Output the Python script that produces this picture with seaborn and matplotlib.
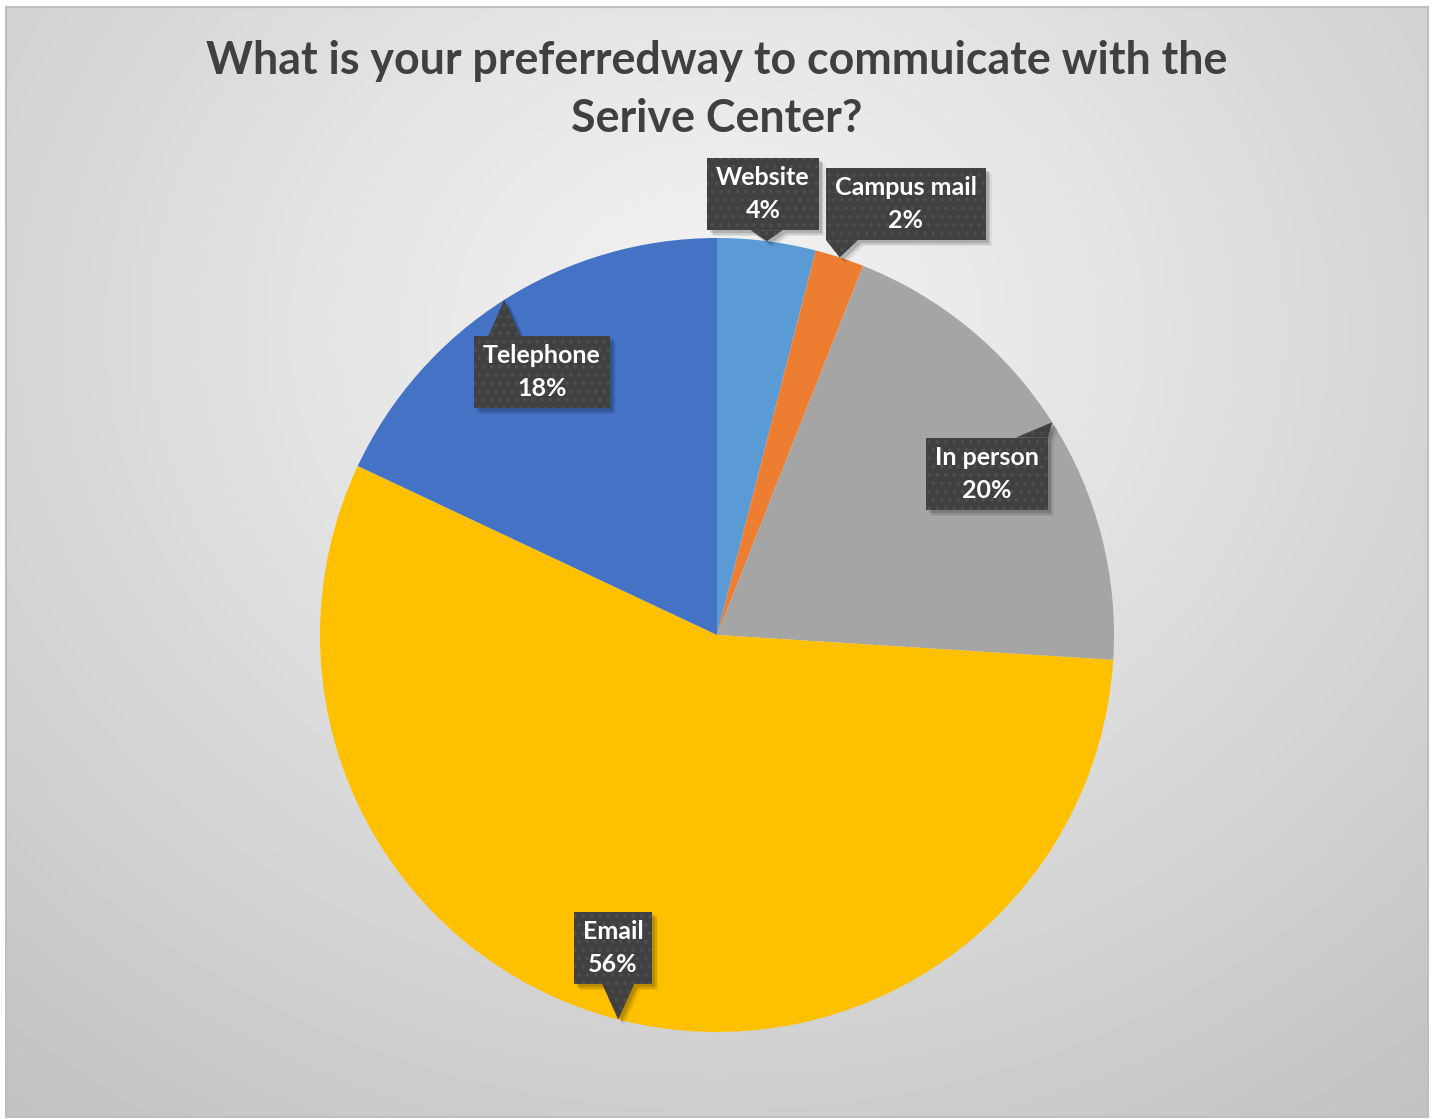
import numpy as np
import matplotlib
matplotlib.use("Agg")
import matplotlib.pyplot as plt
from matplotlib.patches import Rectangle, Polygon
import seaborn as sns

# Survey answers (share of respondents, %)
channels = ["Website", "Campus mail", "In person", "Email", "Telephone"]
shares = [4, 2, 20, 56, 18]
slice_colors = ["#5B9BD5", "#ED7D31", "#A5A5A5", "#FFC000", "#4472C4"]

title = "What is your preferredway to commuicate with the\nSerive Center?"

# Callout box centres, in pie-radius units
callout_pos = {
    "Website": (0.116, 1.111),
    "Campus mail": (0.476, 1.086),
    "In person": (0.680, 0.406),
    "Email": (-0.262, -0.788),
    "Telephone": (-0.441, 0.662),
}

sns.set_theme(style="white")
plt.rcParams["font.family"] = ["Lato", "DejaVu Sans"]
plt.rcParams["hatch.linewidth"] = 1.5

W, H, DPI = 1435, 1119, 100
fig = plt.figure(figsize=(W / DPI, H / DPI), dpi=DPI)
fig.patch.set_facecolor("white")

# pie centre and radius in pixels
cx, cy, R = 717, 635, 397
ax = fig.add_axes([0, 0, 1, 1])
x0, x1 = -cx / R, (W - cx) / R
y0, y1 = (cy - H) / R, cy / R


def px(x, y):
    """pixel position (from top-left) -> data coordinates"""
    return (x - cx) / R, (cy - y) / R


# chart area with a soft radial gradient
gx0, gy0 = px(6, 7)
gx1, gy1 = px(1428, 1117)
nx, ny = 400, 320
xs = np.linspace(gx0, gx1, nx)
ys = np.linspace(gy1, gy0, ny)
XX, YY = np.meshgrid(xs, ys)
ccx, ccy = px(717, 330)
d = np.sqrt(((XX - ccx) / 2.0) ** 2 + ((YY - ccy) / 1.75) ** 2)
d = np.clip(d / d.max(), 0, 1)
light = np.array([0xF4, 0xF4, 0xF4]) / 255
dark = np.array([0xC2, 0xC2, 0xC2]) / 255
img = light[None, None, :] * (1 - d[..., None] ** 1.1) + dark[None, None, :] * (d[..., None] ** 1.1)
ax.imshow(img, extent=(gx0, gx1, gy1, gy0), origin="lower", zorder=0, aspect="auto", interpolation="bilinear")
ax.add_patch(Rectangle((gx0, gy1), gx1 - gx0, gy0 - gy1, fill=False, edgecolor="#BFBFBF", linewidth=1.5, zorder=1))

wedges, _ = ax.pie(shares, colors=slice_colors, startangle=90, counterclock=False,
                   radius=1, center=(0, 0), wedgeprops=dict(linewidth=0))
for w in wedges:
    w.set_zorder(2)

ax.set_xlim(x0, x1)
ax.set_ylim(y0, y1)
ax.set_aspect("auto")
ax.axis("off")

fig.text(717 / W, 1 - 90 / H, title, ha="center", va="center", fontsize=32.2, fontweight="bold",
         color="#404040", linespacing=1.5)

fig.canvas.draw()
renderer = fig.canvas.get_renderer()

box_face = "#404040"
dot_color = "#4E4E4E"
pad_x, pad_y = 9 / R, 8 / R
for w, name, val in zip(wedges, channels, shares):
    mid = np.deg2rad((w.theta1 + w.theta2) / 2)
    tip = np.array([np.cos(mid), np.sin(mid)])
    bx, by = callout_pos[name]
    t = ax.text(bx, by, f"{name}\n{val}%", ha="center", va="center", fontsize=18,
                fontweight="bold", color="white", linespacing=1.55, zorder=6)
    bb = t.get_window_extent(renderer)
    hw = bb.width / 2 / R + pad_x
    hh = bb.height / 2 / R + pad_y
    left, right, bot, top = bx - hw, bx + hw, by - hh, by + hh

    # pointer base on the box edge facing the slice
    base_w = 16 / R
    if tip[1] > top:
        bxp = np.clip(tip[0], left + base_w, right - base_w)
        base = [(bxp - base_w, top), (bxp + base_w, top)]
    elif tip[1] < bot:
        bxp = np.clip(tip[0], left + base_w, right - base_w)
        base = [(bxp - base_w, bot), (bxp + base_w, bot)]
    elif tip[0] > right:
        byp = np.clip(tip[1], bot + base_w, top - base_w)
        base = [(right, byp - base_w), (right, byp + base_w)]
    else:
        byp = np.clip(tip[1], bot + base_w, top - base_w)
        base = [(left, byp - base_w), (left, byp + base_w)]
    tri = [base[0], base[1], tuple(tip)]

    # drop shadow
    for k, a in [(6, 0.06), (4.5, 0.09), (3, 0.14)]:
        off = np.array([k, -k]) / R
        ax.add_patch(Rectangle((left + off[0], bot + off[1]), 2 * hw, 2 * hh,
                               facecolor="black", alpha=a, linewidth=0, zorder=3))
        ax.add_patch(Polygon([tuple(np.array(p) + off) for p in tri], closed=True,
                             facecolor="black", alpha=a, linewidth=0, zorder=3))
    ax.add_patch(Rectangle((left, bot), 2 * hw, 2 * hh, facecolor=box_face, edgecolor=dot_color,
                           hatch="..", linewidth=0, zorder=4))
    ax.add_patch(Polygon(tri, closed=True, facecolor=box_face, edgecolor=dot_color,
                         hatch="..", linewidth=0, zorder=4))

fig.savefig("out.png", dpi=DPI)
